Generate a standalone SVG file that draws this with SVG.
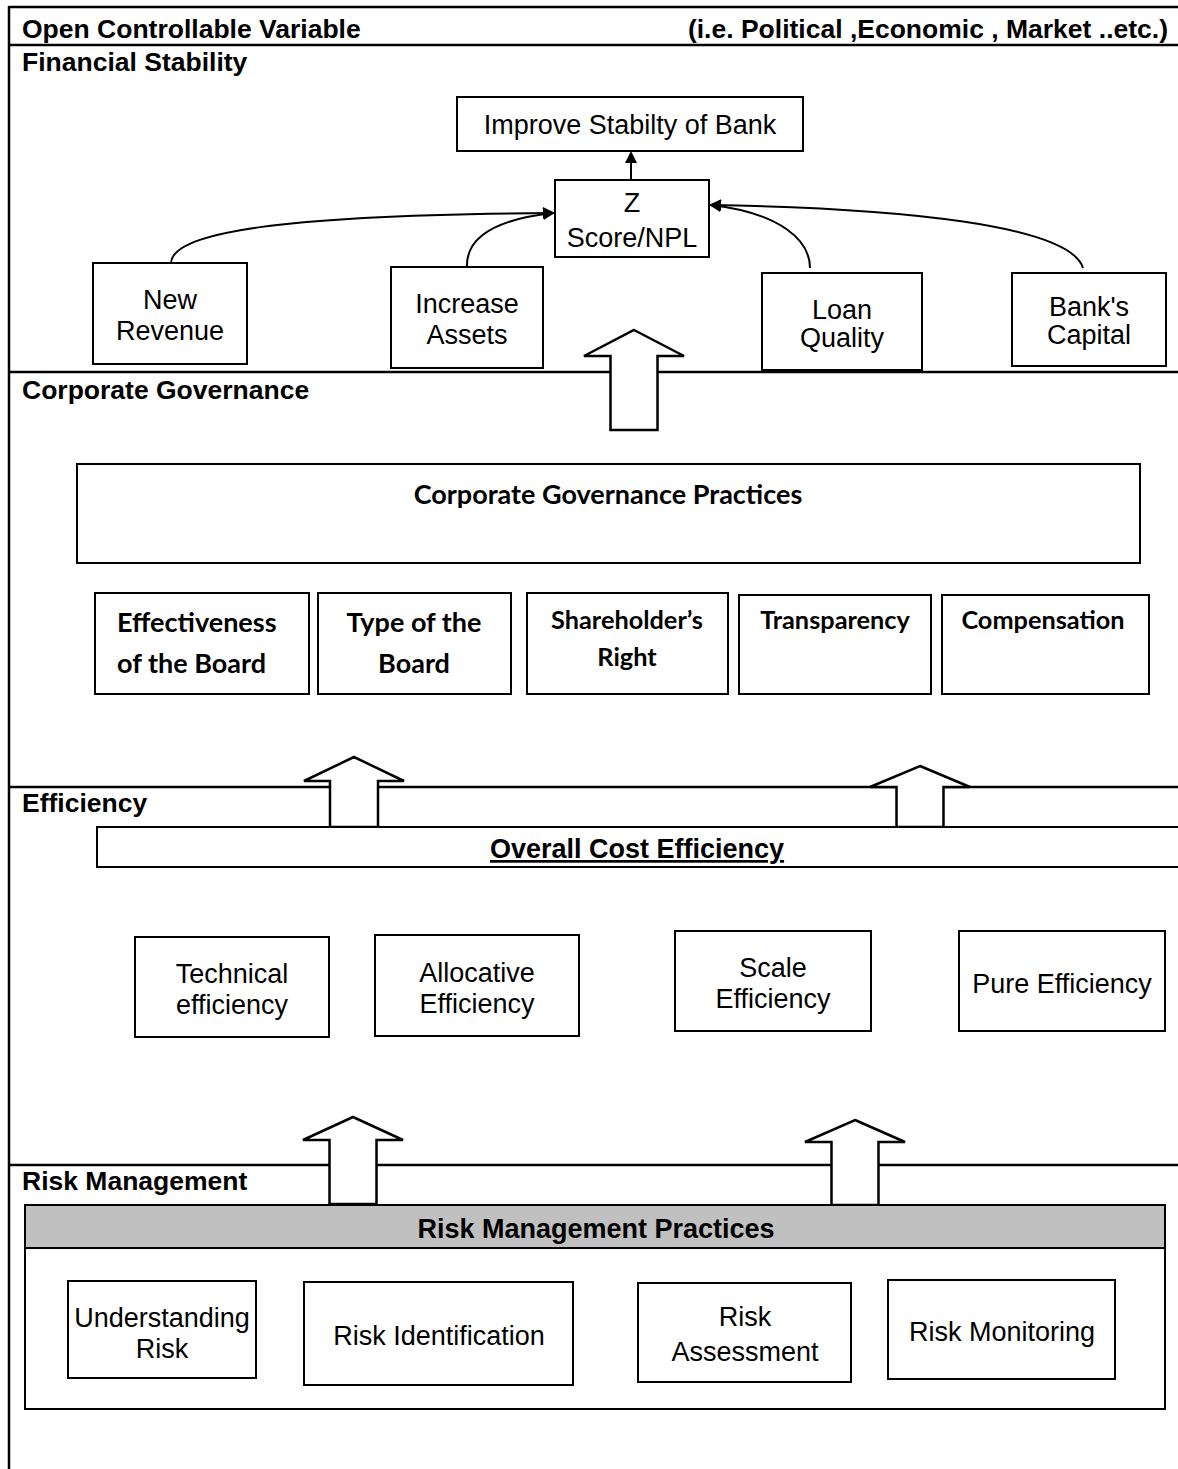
<svg xmlns="http://www.w3.org/2000/svg" width="1178" height="1469" viewBox="0 0 1178 1469">
<style>
.frame{stroke:#000;stroke-width:2.5;fill:none}
.box{fill:#fff;stroke:#000;stroke-width:2}
.hd{font-family:"Liberation Sans",Arial,sans-serif;font-weight:bold;font-size:26.5px;fill:#000}
.t{font-family:"Liberation Sans",Arial,sans-serif;font-size:27px;fill:#000;text-anchor:middle}
.cb{font-family:Lato,"Liberation Sans",sans-serif;font-weight:bold;font-size:27px;fill:#000}
.cs{font-family:Lato,"Liberation Sans",sans-serif;font-weight:bold;font-size:25.3px;fill:#000;text-anchor:middle}
.bb{font-family:"Liberation Sans",Arial,sans-serif;font-weight:bold;font-size:27px;fill:#000;text-anchor:middle}
.con{fill:none;stroke:#000;stroke-width:2}
.big{fill:#fff;stroke:#000;stroke-width:2.5;stroke-linejoin:miter}
</style>
<defs>
<marker id="ah" markerWidth="12" markerHeight="12" refX="10" refY="6" orient="auto" markerUnits="userSpaceOnUse">
<path d="M0,0 L12,6 L0,12 Z" fill="#000"/>
</marker>
</defs>
<rect width="1178" height="1469" fill="#fff"/>
<g id="frame">
<line class="frame" x1="9" y1="7" x2="1178" y2="7"/>
<line class="frame" x1="9" y1="6" x2="9" y2="1469"/>
<line class="frame" x1="9" y1="45" x2="1178" y2="45"/>
<line class="frame" x1="9" y1="372" x2="1178" y2="372"/>
<line class="frame" x1="9" y1="787" x2="1178" y2="787"/>
<line class="frame" x1="9" y1="1165" x2="1178" y2="1165"/>
<text class="hd" x="22" y="38">Open Controllable Variable</text>
<text class="hd" x="1168" y="38" text-anchor="end">(i.e. Political ,Economic , Market ..etc.)</text>
<text class="hd" x="22" y="71">Financial Stability</text>
<text class="hd" x="22" y="399">Corporate Governance</text>
<text class="hd" x="22" y="812">Efficiency</text>
<text class="hd" x="22" y="1190">Risk Management</text>
</g>
<g id="connectors">
<path class="con" d="M171,263 C172,232 280,215 553,213" marker-end="url(#ah)"/>
<path class="con" d="M467,267 C466,240 490,220 553,213" marker-end="url(#ah)"/>
<path class="con" d="M810,268 C810,240 780,213 711,205" marker-end="url(#ah)"/>
<path class="con" d="M1083,268 C1070,225 900,208 711,205" marker-end="url(#ah)"/>
<path class="con" d="M631,180 L631,153" marker-end="url(#ah)"/>
<path class="big" d="M634,330 L684,356 L657.5,356 L657.5,430 L610.5,430 L610.5,356 L584,356 Z"/>
<path class="big" d="M354,757 L404,781 L378,781 L378,827 L330,827 L330,781 L304,781 Z"/>
<path class="big" d="M920,766 L970,787 L943.5,787 L943.5,827 L896.5,827 L896.5,787 L870,787 Z"/>
<path class="big" d="M353,1117 L403,1140 L376.5,1140 L376.5,1204 L329.5,1204 L329.5,1140 L303,1140 Z"/>
<path class="big" d="M855,1120 L905,1142 L878.5,1142 L878.5,1205 L831.5,1205 L831.5,1142 L805,1142 Z"/>
</g>
<g id="n-improve"><rect class="box" x="457" y="97" width="346" height="54"/><text class="t" x="630" y="134">Improve Stabilty of Bank</text></g>
<g id="n-zscore"><rect class="box" x="555" y="180" width="154" height="77"/><text class="t" x="632" y="212">Z</text><text class="t" x="632" y="247">Score/NPL</text></g>
<g id="n-revenue"><rect class="box" x="93" y="263" width="154" height="101"/><text class="t" x="170" y="309">New</text><text class="t" x="170" y="340">Revenue</text></g>
<g id="n-assets"><rect class="box" x="391" y="267" width="152" height="101"/><text class="t" x="467" y="313">Increase</text><text class="t" x="467" y="344">Assets</text></g>
<g id="n-loan"><rect class="box" x="762" y="273" width="160" height="97"/><text class="t" x="842" y="319">Loan</text><text class="t" x="842" y="347">Quality</text></g>
<g id="n-capital"><rect class="box" x="1012" y="273" width="154" height="93"/><text class="t" x="1089" y="316">Bank's</text><text class="t" x="1089" y="344">Capital</text></g>
<g id="n-cgp"><rect class="box" x="77" y="464" width="1063" height="99"/><text class="cb" x="608" y="504" text-anchor="middle">Corporate Governance Practices</text></g>
<g id="n-effect"><rect class="box" x="95" y="593" width="214" height="101"/><text class="cb" x="117" y="632">Effectiveness</text><text class="cb" x="117" y="673">of the Board</text></g>
<g id="n-type"><rect class="box" x="318" y="593" width="193" height="101"/><text class="cb" x="414" y="632" text-anchor="middle">Type of the</text><text class="cb" x="414" y="673" text-anchor="middle">Board</text></g>
<g id="n-share"><rect class="box" x="527" y="593" width="201" height="101"/><text class="cs" x="627" y="629">Shareholder’s</text><text class="cs" x="627" y="666">Right</text></g>
<g id="n-transp"><rect class="box" x="739" y="595" width="192" height="99"/><text class="cs" x="835" y="629">Transparency</text></g>
<g id="n-comp"><rect class="box" x="942" y="595" width="207" height="99"/><text class="cs" x="1043" y="629">Compensation</text></g>
<g id="n-overall"><rect class="box" x="97" y="827" width="1095" height="40"/><text class="bb" x="637" y="858" text-decoration="underline">Overall Cost Efficiency</text></g>
<g id="n-tech"><rect class="box" x="135" y="937" width="194" height="100"/><text class="t" x="232" y="983">Technical</text><text class="t" x="232" y="1014">efficiency</text></g>
<g id="n-alloc"><rect class="box" x="375" y="935" width="204" height="101"/><text class="t" x="477" y="982">Allocative</text><text class="t" x="477" y="1013">Efficiency</text></g>
<g id="n-scale"><rect class="box" x="675" y="931" width="196" height="100"/><text class="t" x="773" y="977">Scale</text><text class="t" x="773" y="1008">Efficiency</text></g>
<g id="n-pure"><rect class="box" x="959" y="931" width="206" height="100"/><text class="t" x="1062" y="993">Pure Efficiency</text></g>
<g id="n-rmp"><rect class="box" x="25" y="1205" width="1140" height="204"/><rect x="25" y="1205" width="1140" height="43" fill="#c0c0c0" stroke="#000" stroke-width="2"/><text class="bb" x="596" y="1238">Risk Management Practices</text></g>
<g id="n-under"><rect class="box" x="68" y="1281" width="188" height="97"/><text class="t" x="162" y="1327">Understanding</text><text class="t" x="162" y="1358">Risk</text></g>
<g id="n-ident"><rect class="box" x="304" y="1282" width="269" height="103"/><text class="t" x="439" y="1345">Risk Identification</text></g>
<g id="n-assess"><rect class="box" x="638" y="1283" width="213" height="99"/><text class="t" x="745" y="1326">Risk</text><text class="t" x="745" y="1361">Assessment</text></g>
<g id="n-monitor"><rect class="box" x="888" y="1280" width="227" height="99"/><text class="t" x="1002" y="1341">Risk Monitoring</text></g>
</svg>
